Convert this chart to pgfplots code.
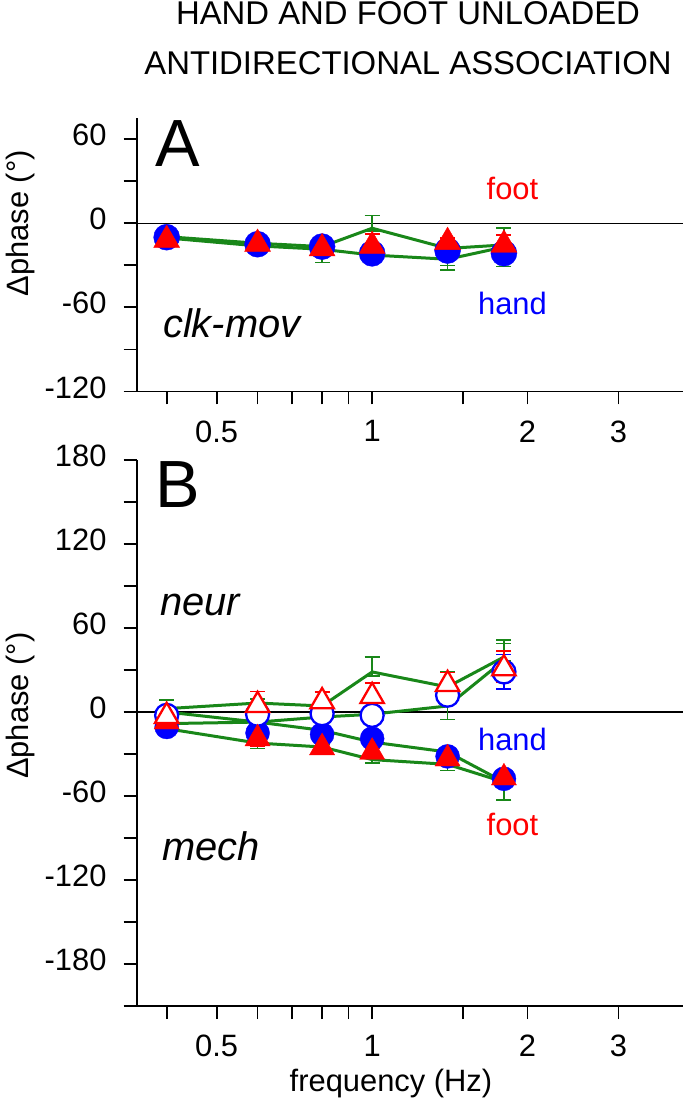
\documentclass[border=0pt]{standalone}
\usepackage{fontspec}
\setmainfont{Liberation Sans}
\usepackage{pgfplots}
\pgfplotsset{compat=1.18}
\definecolor{grn}{RGB}{25,135,25}
\definecolor{myblue}{RGB}{0,0,255}
\definecolor{myred}{RGB}{255,0,0}

\begin{document}
\begin{tikzpicture}
\useasboundingbox (0bp,0bp) rectangle (685bp,1100bp);
\node[anchor=base, inner sep=0pt, font=\fontsize{33}{33}\selectfont] at (408bp,1075bp) {HAND AND FOOT UNLOADED};
\node[anchor=base, inner sep=0pt, font=\fontsize{33}{33}\selectfont] at (408bp,1025bp) {ANTIDIRECTIONAL ASSOCIATION};

% ---------------- Panel A ----------------
\begin{axis}[scale only axis, width=546.3bp, height=273.5bp,
  at={(136.7bp,708.5bp)}, anchor=south west,
  xmode=log, xmin=0.35, xmax=4,
  ymin=-120, ymax=75,
  axis x line*=bottom, axis y line*=left,
  axis line style={-, line width=1.8bp, black},
  tick style={line width=1.8bp, black},
  tick align=outside,
  major tick length=13bp, minor tick length=13bp,
  xtick={0.4,0.5,0.6,0.7,0.8,0.9,1,1.5,2,3},
  xticklabels={{},0.5,{},{},{},{},1,{},2,3},
  ytick={-120,-60,0,60}, yticklabels={-120,-60,0,60},
  minor ytick={-90,-30,30},
  xticklabel style={font=\fontsize{31}{31}\selectfont, inner sep=0pt, anchor=north, yshift=-16bp},
  yticklabel style={font=\fontsize{31}{31}\selectfont, inner sep=0pt, anchor=east, xshift=-17bp, yshift=4bp},
  ylabel={Δphase (°)},
  ylabel style={font=\fontsize{31}{31}\selectfont, at={(axis description cs:-0.212,0.615)}, anchor=center}]
\addplot[black, line width=1.2bp, forget plot] coordinates {(0.35,0) (4,0)};
% green lines
\addplot[color=grn, line width=3bp, mark=none,
  error bars/.cd, y dir=both, y explicit,
  error bar style={line width=1.5bp, grn},
  error mark options={rotate=90, mark size=7.5bp, line width=1.5bp, grn}]
 table[x=f, y=y, y error plus=ep, y error minus=em] {
f y ep em
0.4 -9.6 2 2
0.6 -14.3 2 2
0.8 -16.7 2 2
1.0 -3.6 9 2
1.4 -18.0 2 12
1.8 -15.5 12 2
};
\addplot[color=grn, line width=3bp, mark=none,
  error bars/.cd, y dir=both, y explicit,
  error bar style={line width=1.5bp, grn},
  error mark options={rotate=90, mark size=7.5bp, line width=1.5bp, grn}]
 table[x=f, y=y, y error plus=ep, y error minus=em] {
f y ep em
0.4 -10.5 2 2
0.6 -16.2 2 2
0.8 -18.6 2 9.4
1.0 -22.7 2 2
1.4 -25.7 2 7.6
1.8 -17.0 2 14
};
% hand
\addplot[only marks, mark=*, mark size=13bp, color=myblue, mark options={fill=myblue, draw=myblue},
  error bars/.cd, y dir=both, y explicit,
  error bar style={line width=1.5bp, myblue},
  error mark options={rotate=90, mark size=7.5bp, line width=1.5bp, myblue}]
 table[x=f, y=y, y error plus=ep, y error minus=em] {
f y ep em
0.4 -10.0 3 3
0.6 -15.0 3 6
0.8 -16.7 3 3
1.0 -21.5 3 3
1.4 -19.5 3 3
1.8 -21.4 3 3
};
% foot
\addplot[only marks, mark=triangle*, mark size=15bp, color=myred, mark options={fill=myred, draw=myred},
  error bars/.cd, y dir=both, y explicit,
  error bar style={line width=1.5bp, myred},
  error mark options={rotate=90, mark size=7.5bp, line width=1.5bp, myred}]
 table[x=f, y=y, y error plus=ep, y error minus=em] {
f y ep em
0.4 -12.0 2 2
0.6 -14.8 6 6
0.8 -18.0 5 5
1.0 -16.3 8.6 8.6
1.4 -13.5 3 3
1.8 -15.4 7 7
};
\node[anchor=north west, inner sep=0pt, font=\fontsize{67}{67}\selectfont] at (rel axis cs:0.034,0.993) {A};
\node[anchor=base west, inner sep=0pt, font=\fontsize{40}{40}\selectfont\itshape] at (rel axis cs:0.048,0.197) {clk-mov};
\node[anchor=base, inner sep=0pt, text=myred, font=\fontsize{31}{31}\selectfont] at (axis cs:1.87,17) {foot};
\node[anchor=base, inner sep=0pt, text=myblue, font=\fontsize{31}{31}\selectfont] at (axis cs:1.87,-65) {hand};
\end{axis}

% ---------------- Panel B ----------------
\begin{axis}[scale only axis, width=546.3bp, height=546bp,
  at={(136.7bp,94bp)}, anchor=south west,
  xmode=log, xmin=0.35, xmax=4,
  ymin=-210, ymax=180,
  axis x line*=bottom, axis y line*=left,
  axis line style={-, line width=1.8bp, black},
  tick style={line width=1.8bp, black},
  tick align=outside,
  major tick length=13bp, minor tick length=13bp,
  xtick={0.4,0.5,0.6,0.7,0.8,0.9,1,1.5,2,3},
  xticklabels={{},0.5,{},{},{},{},1,{},2,3},
  ytick={-180,-120,-60,0,60,120,180}, yticklabels={-180,-120,-60,0,60,120,180},
  minor ytick={-210,-150,-90,-30,30,90,150},
  xticklabel style={font=\fontsize{31}{31}\selectfont, inner sep=0pt, anchor=north, yshift=-16bp},
  yticklabel style={font=\fontsize{31}{31}\selectfont, inner sep=0pt, anchor=east, xshift=-17bp, yshift=4bp},
  ylabel={Δphase (°)},
  ylabel style={font=\fontsize{31}{31}\selectfont, at={(axis description cs:-0.212,0.55)}, anchor=center},
  xlabel={frequency (Hz)},
  xlabel style={font=\fontsize{31}{31}\selectfont, at={(axis description cs:0.4655,-0.157)}, anchor=base}]
\addplot[black, line width=1.2bp, forget plot] coordinates {(0.35,0) (4,0)};
% green lines
\addplot[color=grn, line width=3bp, mark=none,
  error bars/.cd, y dir=both, y explicit,
  error bar style={line width=1.5bp, grn},
  error mark options={rotate=90, mark size=7.5bp, line width=1.5bp, grn}]
 table[x=f, y=y, y error plus=ep, y error minus=em] {
f y ep em
0.4 2.4 6 2
0.6 6.4 3 3
0.8 4.3 3 3
1.0 28.6 10.7 3
1.4 17.9 11 3
1.8 39.3 12 3
};
\addplot[color=grn, line width=3bp, mark=none,
  error bars/.cd, y dir=both, y explicit,
  error bar style={line width=1.5bp, grn},
  error mark options={rotate=90, mark size=7.5bp, line width=1.5bp, grn}]
 table[x=f, y=y, y error plus=ep, y error minus=em] {
f y ep em
0.4 -8.3 2 2
0.6 -7.2 2 2
0.8 -3.6 2 2
1.0 -1.6 2 2
1.4 4.3 3 9.5
1.8 37.0 11.8 3
};
\addplot[color=grn, line width=3bp, mark=none,
  error bars/.cd, y dir=both, y explicit,
  error bar style={line width=1.5bp, grn},
  error mark options={rotate=90, mark size=7.5bp, line width=1.5bp, grn}]
 table[x=f, y=y, y error plus=ep, y error minus=em] {
f y ep em
0.4 0.0 2 2
0.6 -7.2 2 2
0.8 -13.1 2 2
1.0 -21.5 2 2
1.4 -28.6 2 2
1.8 -50.0 3 3
};
\addplot[color=grn, line width=3bp, mark=none,
  error bars/.cd, y dir=both, y explicit,
  error bar style={line width=1.5bp, grn},
  error mark options={rotate=90, mark size=7.5bp, line width=1.5bp, grn}]
 table[x=f, y=y, y error plus=ep, y error minus=em] {
f y ep em
0.4 -11.9 2 2
0.6 -22.2 3 4
0.8 -25.0 2 2
1.0 -34.0 3 2.5
1.4 -37.4 3 4.3
1.8 -50.0 3 12.7
};
% hand mech (filled)
\addplot[only marks, mark=*, mark size=12bp, color=myblue, mark options={fill=myblue, draw=myblue},
  error bars/.cd, y dir=both, y explicit,
  error bar style={line width=1.5bp, myblue},
  error mark options={rotate=90, mark size=7.5bp, line width=1.5bp, myblue}]
 table[x=f, y=y, y error plus=ep, y error minus=em] {
f y ep em
0.4 -10.7 3 3
0.6 -15.0 3 3
0.8 -16.0 3 3
1.0 -19.0 3 3
1.4 -31.7 3 3
1.8 -47.7 3 3
};
% hand neur (open)
\addplot[only marks, mark=*, mark size=11.5bp, color=myblue, mark options={fill=white, draw=myblue, line width=2.3bp},
  error bars/.cd, y dir=both, y explicit,
  error bar style={line width=1.5bp, myblue},
  error mark options={rotate=90, mark size=7.5bp, line width=1.5bp, myblue}]
 table[x=f, y=y, y error plus=ep, y error minus=em] {
f y ep em
0.4 -2.4 3 3
0.6 -1.6 3 3
0.8 -1.2 3 3
1.0 -2.4 7 3
1.4 12.0 3 3
1.8 28.6 12.3 12.3
};
% foot mech (filled)
\addplot[only marks, mark=triangle*, mark size=14.5bp, color=myred, mark options={fill=myred, draw=myred},
  error bars/.cd, y dir=both, y explicit,
  error bar style={line width=1.5bp, myred},
  error mark options={rotate=90, mark size=7.5bp, line width=1.5bp, myred}]
 table[x=f, y=y, y error plus=ep, y error minus=em] {
f y ep em
0.4 -7.0 2 2
0.6 -19.0 3 5.5
0.8 -25.4 3 3
1.0 -28.6 3 3
1.4 -33.4 3 3
1.8 -47.0 3 3
};
% foot neur (open)
\addplot[only marks, mark=triangle*, mark size=13.5bp, color=myred, mark options={fill=white, draw=myred, line width=2.3bp},
  error bars/.cd, y dir=both, y explicit,
  error bar style={line width=1.5bp, myred},
  error mark options={rotate=90, mark size=7.5bp, line width=1.5bp, myred}]
 table[x=f, y=y, y error plus=ep, y error minus=em] {
f y ep em
0.4 -3.0 3 3
0.6 4.8 10 9.6
0.8 7.5 6.8 7.5
1.0 11.2 9.5 5.2
1.4 19.8 8.4 6.2
1.8 31.0 12.4 9.5
};
\node[anchor=north west, inner sep=0pt, font=\fontsize{67}{67}\selectfont] at (rel axis cs:0.034,0.997) {B};
\node[anchor=base west, inner sep=0pt, font=\fontsize{40}{40}\selectfont\itshape] at (rel axis cs:0.043,0.716) {neur};
\node[anchor=base west, inner sep=0pt, font=\fontsize{40}{40}\selectfont\itshape] at (rel axis cs:0.046,0.2667) {mech};
\node[anchor=base, inner sep=0pt, text=myblue, font=\fontsize{31}{31}\selectfont] at (axis cs:1.87,-27.4) {hand};
\node[anchor=base, inner sep=0pt, text=myred, font=\fontsize{31}{31}\selectfont] at (axis cs:1.87,-88) {foot};
\end{axis}
\end{tikzpicture}
\end{document}
